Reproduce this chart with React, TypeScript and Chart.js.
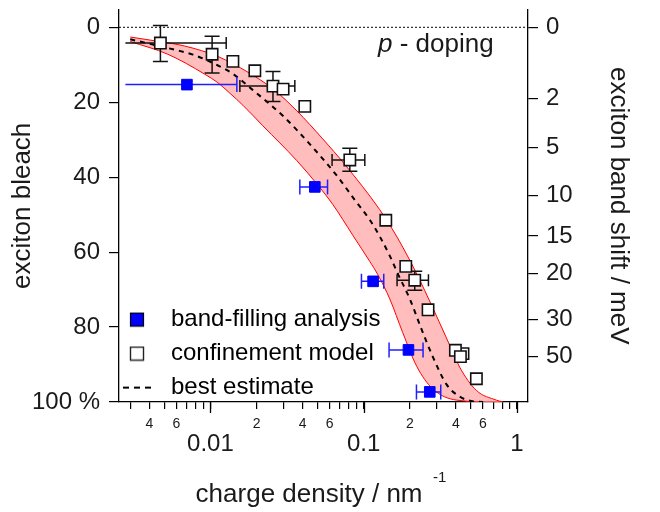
import React, { useEffect, useRef } from 'react';
import { Chart, registerables } from 'chart.js';

Chart.register(...registerables);

// ---------------- data ----------------
// confinement model (open squares)
const confDensity = [0.00472, 0.01026, 0.01402, 0.0195, 0.0256, 0.0298, 0.0413, 0.0812, 0.1394, 0.1882, 0.2153, 0.263, 0.4446, 0.3966, 0.4276, 0.5435];
const confBleach = [4.2, 7.2, 9.1, 11.6, 15.7, 16.5, 21.1, 35.4, 51.5, 63.8, 67.5, 75.4, 87.1, 86.2, 87.9, 93.8];
const confXLo = [0.00279, null, null, null, 0.01557, null, null, 0.0622, null, null, 0.1651, null, null, null, null, null];
const confXHi = [0.01268, null, null, null, 0.03555, null, null, 0.1017, null, null, 0.2645, null, null, null, null, null];
const confYLo = [-0.5, 2.4, null, null, 11.8, null, null, 32.3, null, null, 65.1, null, null, null, null, null];
const confYHi = [9.1, 12.2, null, null, 19.8, null, null, 38.4, null, null, 70.2, null, null, null, null, null];
const confLeftCap = [false, true, true, true, true, true, true, true, true, true, true, true, true, true, true, true];

// band-filling analysis (blue squares)
const bandDensity = [0.00703, 0.048, 0.1152, 0.1959, 0.2698];
const bandBleach = [15.3, 42.6, 67.8, 86.1, 97.3];
const bandXLo = [0.00279, 0.03832, 0.0967, 0.1464, 0.2209];
const bandXHi = [0.01488, 0.0581, 0.1352, 0.2439, 0.3182];
const bandLeftCap = [false, true, true, true, true];

// best estimate (dashed)
const bestX = [0.003, 0.0041, 0.006, 0.0077, 0.0112, 0.014, 0.0186, 0.03, 0.0457, 0.068, 0.0875, 0.11, 0.128, 0.148, 0.168, 0.2, 0.238, 0.283, 0.347, 0.42, 0.5, 0.6];
const bestY = [3.2, 4.5, 6.1, 7.3, 10.2, 12.4, 16.5, 23.8, 31.7, 40.0, 46.1, 51.5, 56, 61, 66, 72.5, 80.5, 88, 95.3, 98.5, 99.7, 100];

// uncertainty band edges
const upperX = [0.003, 0.00465, 0.0068, 0.0112, 0.0176, 0.0257, 0.03664, 0.0541, 0.0753, 0.1274, 0.1636, 0.2, 0.2262, 0.2767, 0.3466, 0.423, 0.543, 0.734, 0.81];
const upperY = [2.6, 3.8, 5.0, 7.8, 12.0, 16.5, 22.3, 29.8, 36.6, 48.7, 55.7, 62.2, 66.5, 74.1, 82.9, 90.7, 96.9, 99.5, 100];
const lowerX = [0.003, 0.00528, 0.00917, 0.01119, 0.0134, 0.01629, 0.022, 0.03664, 0.04947, 0.06291, 0.0849, 0.1096, 0.1236, 0.148, 0.1798, 0.2219, 0.2821, 0.4045, 0.7375, 0.81];
const lowerY = [3.8, 7.2, 12.5, 14.8, 17.6, 20.8, 26.3, 35.6, 41.8, 47.3, 55.5, 62.5, 66, 72.5, 81.5, 90.5, 96.5, 99.5, 100, 100];

// axes
const xMin = 0.002534;
const xMax = 1.18;
const xTickValues = [0.003, 0.004, 0.005, 0.006, 0.007, 0.008, 0.009, 0.01, 0.02, 0.03, 0.04, 0.05, 0.06, 0.07, 0.08, 0.09, 0.1, 0.2, 0.3, 0.4, 0.5, 0.6, 0.7, 0.8, 0.9, 1];
const xTickLabels = ['', '4', '', '6', '', '', '', '0.01', '2', '', '4', '', '6', '', '', '', '0.1', '2', '', '4', '', '6', '', '', '', '1'];
const xMajorValues = [0.01, 0.1, 1];
const yMin = -4.72;
const yMax = 100;
const yTickValues = [0, 20, 40, 60, 80, 100];
const yTickLabels = ['0', '20', '40', '60', '80', '100 %'];
const shiftTickPositions = [0, 19.0, 32.1, 44.8, 55.7, 65.8, 78.0, 87.9];
const shiftTickLabels = ['0', '2', '5', '10', '15', '20', '30', '50'];

const FONT = '"Liberation Sans", Arial, Helvetica, sans-serif';
const TEXT = '#1a1a1a';

export default function App() {
  const ref = useRef<HTMLCanvasElement>(null);

  useEffect(() => {
    const canvas = ref.current;
    if (!canvas) return;
    Chart.defaults.font.family = FONT;
    Chart.defaults.color = TEXT;

    const mk = (w: number, h: number, draw: (g: CanvasRenderingContext2D) => void) => {
      const c = document.createElement('canvas');
      c.width = w;
      c.height = h;
      const g = c.getContext('2d');
      if (g) draw(g);
      return c;
    };
    const blueIcon = mk(16, 16, (g) => {
      g.fillStyle = '#0000ff';
      g.fillRect(1, 1, 14, 14);
      g.strokeStyle = '#000';
      g.lineWidth = 1.2;
      g.strokeRect(1.5, 1.5, 13, 13);
    });
    const openIcon = mk(16, 16, (g) => {
      g.fillStyle = '#fff';
      g.fillRect(1, 1, 14, 14);
      g.strokeStyle = '#222';
      g.lineWidth = 1.4;
      g.strokeRect(1.5, 1.5, 13, 13);
    });
    const dashIcon = mk(30, 4, (g) => {
      g.strokeStyle = '#000';
      g.lineWidth = 2;
      g.setLineDash([6, 5]);
      g.beginPath();
      g.moveTo(1, 2);
      g.lineTo(29, 2);
      g.stroke();
    });

    const pts = (xs: number[], ys: number[]) => xs.map((x, i) => ({ x, y: ys[i] }));

    const datasets: any[] = [];
    datasets.push({
      label: 'band-filling analysis',
      data: pts(bandDensity, bandBleach),
      showLine: false,
      pointStyle: 'rect',
      pointRadius: 7.5,
      backgroundColor: '#0000ff',
      borderColor: '#0000ff',
      borderWidth: 1,
    });
    datasets.push({
      label: 'confinement model',
      data: pts(confDensity, confBleach),
      showLine: false,
      pointStyle: 'rect',
      pointRadius: 8,
      backgroundColor: '#ffffff',
      borderColor: '#111',
      borderWidth: 1.6,
    });
    // error bars (built from the arrays above)
    const hBar = (lo: number, hi: number, y: number, color: string, leftCap: boolean, cap: number) => ({
      label: '_err',
      data: [{ x: lo, y }, { x: hi, y }],
      showLine: true,
      borderColor: color,
      borderWidth: 1.5,
      pointStyle: 'line',
      pointRotation: 90,
      pointRadius: [leftCap ? cap : 0, cap],
      pointBorderColor: color,
      pointBorderWidth: 1.5,
      pointBackgroundColor: color,
    });
    const vBar = (x: number, lo: number, hi: number, color: string, cap: number) => ({
      label: '_err',
      data: [{ x, y: lo }, { x, y: hi }],
      showLine: true,
      borderColor: color,
      borderWidth: 1.5,
      pointStyle: 'line',
      pointRotation: 0,
      pointRadius: cap,
      pointBorderColor: color,
      pointBorderWidth: 1.5,
      pointBackgroundColor: color,
    });
    confDensity.forEach((x, i) => {
      const xl = confXLo[i], xh = confXHi[i], yl = confYLo[i], yh = confYHi[i];
      if (xl !== null && xh !== null) datasets.push(hBar(xl, xh, confBleach[i], '#111', confLeftCap[i], 6));
      if (yl !== null && yh !== null) datasets.push(vBar(x, yl, yh, '#111', 7.5));
    });
    bandDensity.forEach((x, i) => {
      datasets.push(hBar(bandXLo[i], bandXHi[i], bandBleach[i], '#1f1fff', bandLeftCap[i], 7.5));
    });
    datasets.push({
      label: 'best estimate',
      data: pts(bestX, bestY),
      showLine: true,
      borderColor: '#000',
      borderWidth: 2,
      borderDash: [5, 5],
      pointRadius: 0,
      cubicInterpolationMode: 'monotone',
    });
    const lowerIndex = datasets.length;
    datasets.push({
      label: '_lower',
      data: pts(lowerX, lowerY),
      showLine: true,
      borderColor: '#ff0000',
      borderWidth: 1,
      pointRadius: 0,
      cubicInterpolationMode: 'monotone',
    });
    datasets.push({
      label: '_upper',
      data: pts(upperX, upperY),
      showLine: true,
      borderColor: '#ff0000',
      borderWidth: 1,
      pointRadius: 0,
      cubicInterpolationMode: 'monotone',
      fill: { target: lowerIndex, above: '#ffbdbd', below: '#ffbdbd' },
      backgroundColor: '#ffbdbd',
    });
    datasets.push({
      label: '_zero',
      data: [{ x: xMin, y: 0 }, { x: xMax, y: 0 }],
      showLine: true,
      borderColor: '#000',
      borderWidth: 1,
      borderDash: [2, 2],
      pointRadius: 0,
    });

    const extras = {
      id: 'extras',
      afterUpdate(chart: any) {
        const lg = chart.legend;
        const ca = chart.chartArea;
        if (lg && ca) {
          lg.left = ca.left - 14;
          lg.top = ca.top + 288;
          lg.right = lg.left + 420;
          lg.bottom = lg.top + 160;
          lg.width = 420;
          lg.height = 160;
        }
      },
      afterDraw(chart: any) {
        const { ctx, chartArea: ca, scales } = chart;
        ctx.save();
        // long major ticks on the density axis
        ctx.strokeStyle = '#000';
        ctx.lineWidth = 1.3;
        xMajorValues.forEach((v) => {
          const px = Math.round(scales.x.getPixelForValue(v)) + 0.5;
          ctx.beginPath();
          ctx.moveTo(px, ca.bottom);
          ctx.lineTo(px, ca.bottom + 11);
          ctx.stroke();
        });
        // in-plot label
        ctx.fillStyle = TEXT;
        ctx.textBaseline = 'middle';
        ctx.textAlign = 'left';
        ctx.font = `italic 26px ${FONT}`;
        const px0 = ca.right - 150;
        ctx.fillText('p', px0, 45);
        const pw = ctx.measureText('p').width;
        ctx.font = `26px ${FONT}`;
        ctx.fillText(' - doping', px0 + pw, 45);
        // superscript of the unit
        ctx.font = `15px ${FONT}`;
        ctx.fillText('-1', ca.right - 95, 478);
        ctx.restore();
      },
    };

    const chart = new Chart(canvas, {
      type: 'scatter',
      data: { datasets },
      options: {
        animation: false,
        responsive: true,
        maintainAspectRatio: false,
        events: [],
        layout: { padding: { top: 3, left: 0, right: 0, bottom: 0 } },
        plugins: {
          tooltip: { enabled: false },
          legend: {
            display: true,
            position: 'chartArea',
            align: 'start',
            onClick: () => {},
            labels: {
              usePointStyle: true,
              pointStyleWidth: 44,
              padding: 10,
              color: TEXT,
              font: { size: 24, family: FONT },
              generateLabels: () => [
                { text: 'band-filling analysis', pointStyle: blueIcon, fillStyle: '#0000ff', strokeStyle: '#000', lineWidth: 0, hidden: false, datasetIndex: 0 },
                { text: 'confinement model', pointStyle: openIcon, fillStyle: '#fff', strokeStyle: '#000', lineWidth: 0, hidden: false, datasetIndex: 1 },
                { text: 'best estimate', pointStyle: dashIcon, fillStyle: '#000', strokeStyle: '#000', lineWidth: 0, hidden: false },
              ],
            },
          },
        },
        scales: {
          x: {
            type: 'logarithmic',
            position: 'bottom',
            min: xMin,
            max: xMax,
            afterBuildTicks: (s: any) => {
              s.ticks = xTickValues.map((v) => ({ value: v }));
            },
            afterFit: (s: any) => {
              s.height = 110;
              s.paddingLeft = 0;
              s.paddingRight = 0;
              s.paddingTop = 0;
              s.paddingBottom = 0;
            },
            border: { display: true, color: '#000', width: 1.3 },
            grid: { display: true, drawOnChartArea: false, drawTicks: true, tickLength: 7, color: '#000', lineWidth: 1.2 },
            ticks: {
              autoSkip: false,
              maxRotation: 0,
              minRotation: 0,
              padding: 7,
              color: TEXT,
              font: (ctx: any) => {
                const v = ctx.tick ? ctx.tick.value : 0;
                return xMajorValues.includes(v)
                  ? { size: 24, lineHeight: 0.79, family: FONT }
                  : { size: 14, lineHeight: 1.2, family: FONT };
              },
              callback: (value: any, index: number) => {
                const lab = xTickLabels[index] ?? '';
                return xMajorValues.includes(Number(value)) ? ['', lab] : lab;
              },
            },
            title: {
              display: true,
              text: 'charge density / nm    ',
              color: TEXT,
              font: { size: 26, family: FONT },
              padding: { top: 0, bottom: 2 },
            },
          },
          y: {
            type: 'linear',
            position: 'left',
            min: yMin,
            max: yMax,
            reverse: true,
            afterBuildTicks: (s: any) => {
              s.ticks = yTickValues.map((v) => ({ value: v }));
            },
            afterFit: (s: any) => {
              s.width = 119;
              s.paddingTop = 0;
              s.paddingBottom = 0;
              s.paddingLeft = 0;
              s.paddingRight = 0;
            },
            border: { display: true, color: '#000', width: 1.3 },
            grid: { display: true, drawOnChartArea: false, drawTicks: true, tickLength: 10, color: '#000', lineWidth: 1.2 },
            ticks: {
              padding: 9,
              color: TEXT,
              font: { size: 24, family: FONT },
              callback: (_v: any, index: number) => yTickLabels[index] ?? '',
            },
            title: {
              display: true,
              text: 'exciton bleach',
              color: TEXT,
              font: { size: 26, family: FONT },
              padding: { top: 7, bottom: 0 },
            },
          },
          y2: {
            type: 'linear',
            position: 'right',
            min: yMin,
            max: yMax,
            reverse: true,
            afterBuildTicks: (s: any) => {
              s.ticks = shiftTickPositions.map((v) => ({ value: v }));
            },
            afterFit: (s: any) => {
              s.width = 132;
              s.paddingTop = 0;
              s.paddingBottom = 0;
              s.paddingLeft = 0;
              s.paddingRight = 0;
            },
            border: { display: true, color: '#000', width: 1.3 },
            grid: { display: true, drawOnChartArea: false, drawTicks: true, tickLength: 10, color: '#000', lineWidth: 1.2 },
            ticks: {
              padding: 8,
              color: TEXT,
              font: { size: 24, family: FONT },
              callback: (_v: any, index: number) => shiftTickLabels[index] ?? '',
            },
            title: {
              display: true,
              text: 'exciton band shift / meV',
              color: TEXT,
              font: { size: 26, family: FONT },
              padding: { top: 26, bottom: 0 },
            },
          },
        },
      } as any,
      plugins: [extras],
    });

    return () => chart.destroy();
  }, []);

  return (
    <div style={{ position: 'fixed', left: 0, top: 0, width: 660, height: 512, background: '#fff' }}>
      <canvas ref={ref} />
    </div>
  );
}
